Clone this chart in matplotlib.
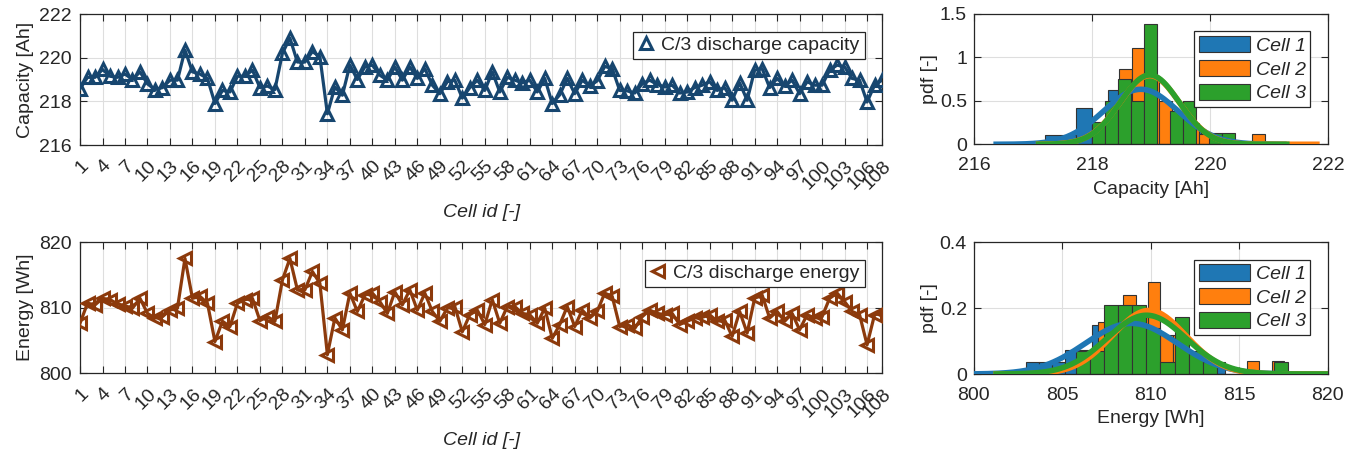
import numpy as np
import matplotlib.pyplot as plt
from matplotlib.patches import Patch
from matplotlib.lines import Line2D
from matplotlib.ticker import FormatStrFormatter

plt.rcParams['font.family'] = ['Liberation Sans', 'DejaVu Sans']
plt.rcParams['font.size'] = 14

# --- data ---
cell_id = np.arange(1, 109)

capacity = [218.58, 219.10, 219.10, 219.46, 219.15, 219.10, 219.25, 219.00, 219.35, 218.80,
            218.54, 218.63, 218.97, 218.97, 220.35, 219.35, 219.25, 219.05, 217.90, 218.50,
            218.43, 219.15, 219.15, 219.43, 218.63, 218.70, 218.54, 220.20, 220.90, 219.80,
            219.80, 220.28, 220.05, 217.43, 218.66, 218.28, 219.66, 219.00, 219.58, 219.66,
            219.20, 218.97, 219.58, 218.97, 219.58, 219.05, 219.50, 218.74, 218.35, 218.90,
            218.97, 218.15, 218.63, 218.97, 218.50, 219.35, 218.43, 219.10, 218.97, 218.85,
            218.97, 218.43, 219.05, 217.90, 218.30, 219.05, 218.35, 218.97, 218.70, 218.94,
            219.60, 219.50, 218.50, 218.48, 218.38, 218.80, 218.97, 218.77, 218.66, 218.74,
            218.38, 218.43, 218.63, 218.74, 218.90, 218.50, 218.63, 218.05, 218.85, 218.05,
            219.43, 219.50, 218.63, 219.05, 218.70, 218.97, 218.35, 218.90, 218.74, 218.74,
            219.43, 219.66, 219.58, 219.05, 218.97, 217.97, 218.74, 218.97]

energy = [807.6, 810.66, 810.4, 811.4, 811.2, 810.56, 810.25, 809.9, 811.4, 809.1,
          808.4, 808.6, 809.6, 809.9, 817.5, 811.4, 811.7, 810.66, 804.8, 807.9,
          807.1, 810.66, 811.2, 811.4, 808.0, 808.6, 807.9, 814.2, 817.5, 812.7,
          812.7, 815.5, 813.7, 802.8, 808.4, 806.6, 812.2, 809.4, 811.9, 812.2,
          810.9, 809.1, 812.4, 810.4, 812.7, 809.6, 812.2, 809.4, 807.9, 809.9,
          810.15, 806.3, 808.9, 809.6, 807.4, 811.2, 807.6, 810.15, 810.15, 809.1,
          808.9, 807.6, 809.9, 805.3, 807.4, 810.15, 807.1, 809.6, 808.4, 809.4,
          812.2, 811.7, 807.1, 807.4, 806.8, 808.6, 809.6, 809.1, 808.9, 809.1,
          807.4, 807.9, 808.4, 808.5, 808.9, 807.9, 808.1, 805.6, 809.4, 806.1,
          811.4, 811.9, 808.4, 809.4, 807.9, 809.1, 806.6, 808.9, 808.4, 808.6,
          811.4, 812.2, 810.9, 809.4, 808.9, 804.3, 808.9, 809.1]

xtick_ids = [1, 4, 7, 10, 13, 16, 19, 22, 25, 28, 31, 34, 37, 40, 43, 46, 49, 52, 55, 58,
             61, 64, 67, 70, 73, 76, 79, 82, 85, 88, 91, 94, 97, 100, 103, 106, 108]

cell_names = ['Cell 1', 'Cell 2', 'Cell 3']

# capacity histograms (pdf): first bin edge, bin width, bar heights
cap_bin_start = [217.205, 218.008, 218.0]
cap_bin_width = [0.265, 0.225, 0.2203]
cap_pdf = [
    [0.105, 0.105, 0.419, 0.210, 0.629, 0.629, 0.524, 0.419, 0.314, 0.210, 0.105, 0.105],
    [0.123, 0.370, 0.864, 1.111, 0.741, 0.494, 0.247, 0.247, 0.123, 0, 0, 0, 0.123],
    [0.252, 0.504, 0.756, 0.504, 1.387, 0, 0.378, 0.504, 0, 0.126, 0.126],
]
cap_mu = [218.83, 218.98, 218.98]
cap_sigma = [0.63, 0.505, 0.50]
cap_fit_range = [(216.33, 221.3), (217.05, 221.86), (217.05, 221.35)]

# energy histograms (pdf)
en_bin_start = [802.92, 806.33, 805.74]
en_bin_width = [0.75, 0.70, 0.80]
en_pdf = [
    [0.037, 0.037, 0.037, 0.074, 0.074, 0.148, 0.148, 0.185, 0.185, 0.148, 0.111, 0.074, 0.037, 0, 0.037],
    [0.040, 0.159, 0.198, 0.238, 0.198, 0.278, 0.119, 0.119, 0, 0, 0, 0, 0, 0.040, 0, 0.040],
    [0.069, 0.069, 0.208, 0.208, 0.208, 0.139, 0.035, 0.174, 0.069, 0.035, 0, 0, 0, 0, 0.035],
]
en_mu = [808.9, 809.9, 809.75]
en_sigma = [2.6, 2.07, 2.24]
en_fit_range = [(798.0, 822.0), (801.1, 822.0), (801.1, 822.0)]

# --- styling ---
TXT = '#262626'
GRID = '#dedede'
CAP_COLOR = '#17466f'
EN_COLOR = '#8c3a0c'
HIST_COLORS = ['#1f77b4', '#ff7f0e', '#2ca02c']


def style_axes(ax, ypad):
    ax.grid(True, color=GRID, linewidth=0.8)
    ax.set_axisbelow(True)
    ax.tick_params(direction='in', top=True, right=True, length=5, width=0.8,
                   colors=TXT, labelsize=14)
    ax.tick_params(axis='y', pad=ypad)
    ax.tick_params(axis='x', pad=9)
    for sp in ax.spines.values():
        sp.set_color(TXT)
        sp.set_linewidth(0.9)


def line_panel(ax, values, color, marker, ylim, yticks, ylabel, label):
    ax.plot(cell_id, values, color=color, linewidth=2.3, marker=marker,
            markersize=8.5, markeredgewidth=2.2, markerfacecolor='none', zorder=3)
    ax.set_xlim(1, 108)
    ax.set_ylim(*ylim)
    ax.set_yticks(yticks)
    ax.set_xticks(xtick_ids)
    ax.set_xticklabels([str(t) for t in xtick_ids], rotation=45, ha='right',
                       rotation_mode='anchor', fontsize=13.5)
    style_axes(ax, 6)
    ax.set_ylabel(ylabel, color=TXT, labelpad=4)
    ax.set_xlabel('Cell id [-]', color=TXT, style='italic', labelpad=8)
    h = Line2D([], [], color=color, marker=marker, linestyle='none',
               markersize=8.5, markeredgewidth=2.2, markerfacecolor='none')
    leg = ax.legend([h], [label], loc='upper right', fancybox=False, framealpha=1,
                    edgecolor=TXT, handlelength=0.8, handletextpad=0.4,
                    borderpad=0.25, borderaxespad=0.9, fontsize=14)
    leg.get_frame().set_linewidth(0.9)
    for t in leg.get_texts():
        t.set_color(TXT)


def hist_panel(ax, starts, widths, pdfs, mus, sigmas, ranges, xlim, xticks,
               ylim, yticks, xlabel):
    for k in range(3):
        h = np.asarray(pdfs[k])
        left = starts[k] + widths[k] * np.arange(len(h))
        ax.bar(left, h, width=widths[k], align='edge', color=HIST_COLORS[k],
               edgecolor='#333333', linewidth=0.8, zorder=2)
    for k in range(3):
        x = np.linspace(ranges[k][0], ranges[k][1], 200)
        y = np.exp(-0.5 * ((x - mus[k]) / sigmas[k]) ** 2) / (sigmas[k] * np.sqrt(2 * np.pi))
        ax.plot(x, y, color=HIST_COLORS[k], linewidth=4, zorder=3,
                solid_capstyle='butt')
    ax.set_xlim(*xlim)
    ax.set_ylim(*ylim)
    ax.set_xticks(xticks)
    ax.set_yticks(yticks)
    ax.yaxis.set_major_formatter(FormatStrFormatter('%g'))
    style_axes(ax, 5)
    ax.set_xlabel(xlabel, color=TXT, labelpad=5)
    ax.set_ylabel('pdf [-]', color=TXT, labelpad=1)
    handles = [Patch(facecolor=c, edgecolor='#333333', linewidth=0.8) for c in HIST_COLORS]
    leg = ax.legend(handles, cell_names, loc='upper right', fancybox=False,
                    framealpha=1, edgecolor=TXT, handlelength=2.6, handleheight=0.9,
                    handletextpad=0.3, labelspacing=0.25, borderpad=0.25,
                    borderaxespad=0.9, prop={'style': 'italic', 'size': 14})
    leg.get_frame().set_linewidth(0.9)
    leg.set_zorder(5)
    for t in leg.get_texts():
        t.set_color(TXT)


fig = plt.figure(figsize=(13.61, 4.54), dpi=100)

ax1 = fig.add_axes([0.0588, 0.6806, 0.5893, 0.2885])
line_panel(ax1, capacity, CAP_COLOR, '^', (216, 222), [216, 218, 220, 222],
           'Capacity [Ah]', 'C/3 discharge capacity')

ax2 = fig.add_axes([0.0588, 0.1784, 0.5893, 0.2885])
line_panel(ax2, energy, EN_COLOR, '<', (800, 820), [800, 810, 820],
           'Energy [Wh]', 'C/3 discharge energy')

ax3 = fig.add_axes([0.7156, 0.6822, 0.2601, 0.2870])
hist_panel(ax3, cap_bin_start, cap_bin_width, cap_pdf, cap_mu, cap_sigma,
           cap_fit_range, (216, 222), [216, 218, 220, 222], (0, 1.5),
           [0, 0.5, 1, 1.5], 'Capacity [Ah]')

ax4 = fig.add_axes([0.7156, 0.1762, 0.2601, 0.2907])
hist_panel(ax4, en_bin_start, en_bin_width, en_pdf, en_mu, en_sigma,
           en_fit_range, (800, 820), [800, 805, 810, 815, 820], (0, 0.4),
           [0, 0.2, 0.4], 'Energy [Wh]')

fig.savefig('out.png', dpi=100)
